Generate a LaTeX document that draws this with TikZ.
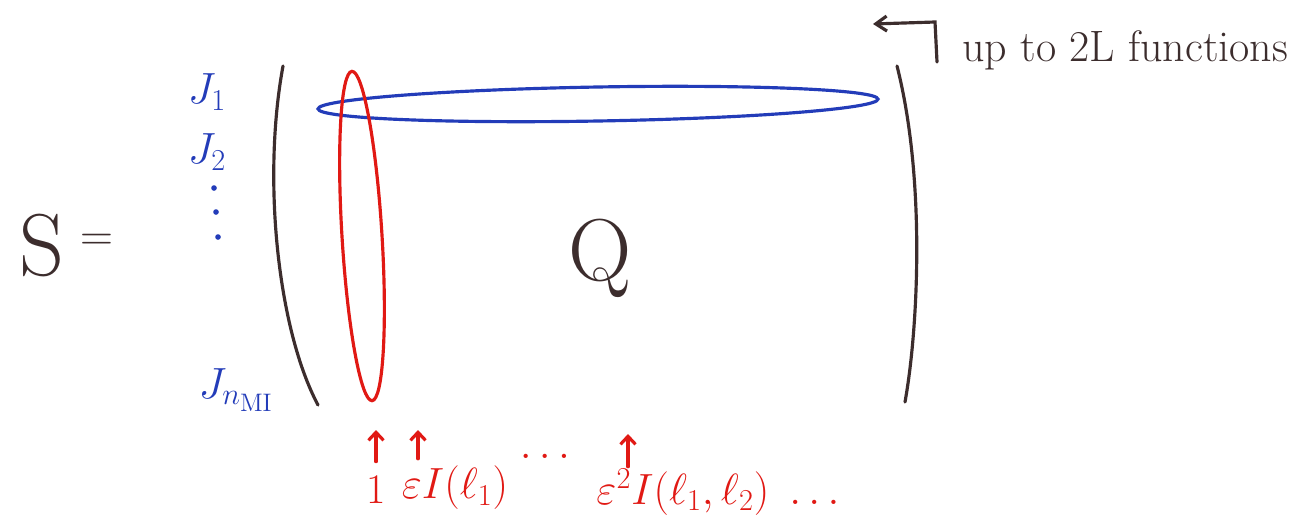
\documentclass[tikz,border=0pt]{standalone}
\usepackage{amsmath}
\usepackage{amssymb}
\usepackage{tikz}
\usetikzlibrary{arrows.meta,positioning}
\usepackage{xcolor}

\definecolor{inkblue}{RGB}{35,60,185}
\definecolor{inkred}{RGB}{225,25,20}
\definecolor{inkdark}{RGB}{60,45,45}

\begin{document}
\begin{tikzpicture}[
  x=0.02cm, y=-0.02cm,
  font=\fontsize{24}{28}\selectfont,
  stroke/.style={line width=1.8pt, line cap=round},
  big/.style={inkdark, font=\fontsize{50}{60}\selectfont, inner sep=0pt},
  rowlbl/.style={inkblue, inner sep=0pt, font=\fontsize{27}{32}\selectfont},
  collbl/.style={inkred, inner sep=1pt},
  arr/.style={-{Straight Barb[length=1.6mm, width=3mm]}, stroke, inkred, shorten <=7pt}
]
\useasboundingbox[fill=white] (0,0) rectangle (1310,524);

% left hand side
\node[big] (snode) at (42,245) {S};
\node[inkdark, font=\fontsize{26}{30}\selectfont] (eqnode) at (97,242) {=};

% row labels
\node[rowlbl] (jone) at (207,92) {$J_1$};
\node[rowlbl] (jtwo) at (207,152) {$J_2$};
\foreach \py/\px in {188/214, 212/216, 237/218}
  \fill[inkblue] (\px,\py) circle (1.6pt);
\node[rowlbl] (jlast) at (236,390) {$J_{n_{\mathrm{MI}}}$};

% brackets
\draw[stroke, inkdark] (283,66) .. controls (262,180) and (278,330) .. (318,405);
\draw[stroke, inkdark] (897,66) .. controls (926,180) and (918,330) .. (905,402);

\node[big] (qnode) at (600,258) {Q};

% highlighted row and column
\draw[stroke, inkblue, rotate around={1:(598,104)}] (598,104) ellipse [x radius=280, y radius=17];
\draw[stroke, inkred, rotate around={3.5:(362,236)}] (362,236) ellipse [x radius=20, y radius=165];

% note top right
\coordinate (armfoot) at (937,62);
\coordinate (armbend) at (935,22);
\coordinate (armtip) at (873,24);
\draw[stroke, inkdark, -{Straight Barb[length=2.2mm, width=3mm]}] (armfoot) -- (armbend) -- (armtip);
\node[inkdark, anchor=west, inner sep=0pt, font=\fontsize{25}{30}\selectfont] (note) at (962,50) {up to 2L functions};

% column labels
\node[collbl] (one) at (376,490) {1};
\node[collbl] (eps) at (455,488) {$\varepsilon I(\ell_1)$};
\node[collbl] (mdots) at (545,456) {$\ldots$};
\node[collbl] (epstwo) at (718,492) {$\varepsilon^2 I(\ell_1,\ell_2)\ \ldots$};
\coordinate (tipa) at (376,430);
\coordinate (tipb) at (418,430);
\coordinate (tipc) at (628,434);
\draw[arr] (one.north) -- (tipa);
\draw[arr, shorten <=3pt] (tipb |- eps.north) -- (tipb);
\draw[arr, shorten <=0pt] (tipc |- epstwo.north) -- (tipc);
\end{tikzpicture}
\end{document}
